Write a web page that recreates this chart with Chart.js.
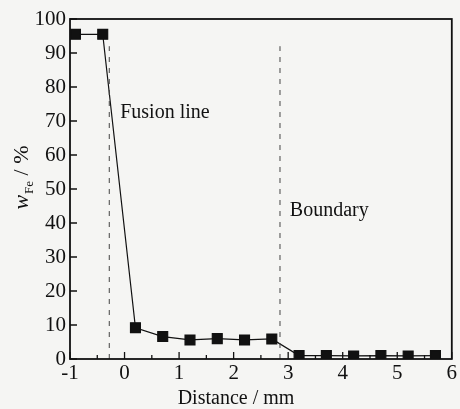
<!DOCTYPE html>
<html>
<head>
<meta charset="utf-8">
<script src="https://cdn.jsdelivr.net/npm/chart.js@4.4.1/dist/chart.umd.min.js"></script>
<style>
  html, body { margin: 0; padding: 0; background: #f5f5f3; }
  #wrap { width: 460px; height: 409px; }
</style>
</head>
<body>
<div id="wrap"><canvas id="feChart" width="460" height="409"></canvas></div>
<script>
// Fe content across the fusion line
const distance = [-0.9, -0.4, 0.2, 0.7, 1.2, 1.7, 2.2, 2.7, 3.2, 3.7, 4.2, 4.7, 5.2, 5.7];
const wFe = [95.5, 95.5, 9.2, 6.6, 5.6, 6.0, 5.6, 5.9, 1.0, 1.0, 0.9, 1.0, 0.9, 1.0];

const fusionX = [-0.28, -0.28];
const boundaryX = [2.85, 2.85];
const markerSpanY = [0, 92];

const xTicks = [-1, 0, 1, 2, 3, 4, 5, 6];
const yTicks = [0, 10, 20, 30, 40, 50, 60, 70, 80, 90, 100];

const labels = [
    { text: "Fusion line", x: -0.08, y: 72.5 },
    { text: "Boundary", x: 3.03, y: 43.5 },
];

const SERIF = "'Liberation Serif', 'Times New Roman', serif";

// inward ticks, frame, axis titles and the two notes
const decorations = {
    id: "decorations",
    afterDraw(chart) {
        const ctx = chart.ctx;
        const a = chart.chartArea;
        const xs = chart.scales.x;
        const ys = chart.scales.y;
        ctx.save();
        ctx.strokeStyle = "#111";
        ctx.lineWidth = 1.8;
        ctx.strokeRect(a.left, a.top, a.right - a.left, a.bottom - a.top);

        ctx.lineWidth = 1.3;
        ctx.beginPath();
        xTicks.forEach((v, i) => {
            const px = xs.getPixelForValue(v);
            ctx.moveTo(px, a.bottom);
            ctx.lineTo(px, a.bottom - 7);
            if (i < xTicks.length - 1) {
                const mx = xs.getPixelForValue(v + 0.5);
                ctx.moveTo(mx, a.bottom);
                ctx.lineTo(mx, a.bottom - 4);
            }
        });
        yTicks.forEach(v => {
            const py = ys.getPixelForValue(v);
            ctx.moveTo(a.left, py);
            ctx.lineTo(a.left + 7, py);
        });
        ctx.stroke();

        ctx.fillStyle = "#111";
        ctx.font = "20px " + SERIF;
        ctx.textBaseline = "middle";
        labels.forEach(l => {
            ctx.textAlign = "left";
            ctx.fillText(l.text, xs.getPixelForValue(l.x), ys.getPixelForValue(l.y));
        });

        ctx.textAlign = "center";
        ctx.fillText("Distance / mm", 236, 399);

        // y title: w_Fe / %
        ctx.translate(21, 178);
        ctx.rotate(-Math.PI / 2);
        const wFont = "italic 22px " + SERIF;
        const subFont = "13px " + SERIF;
        const restFont = "22px " + SERIF;
        ctx.font = wFont; const w1 = ctx.measureText("w").width;
        ctx.font = subFont; const w2 = ctx.measureText("Fe").width;
        ctx.font = restFont; const w3 = ctx.measureText(" / %").width;
        let x0 = -(w1 + w2 + w3) / 2;
        ctx.textAlign = "left";
        ctx.textBaseline = "alphabetic";
        ctx.font = wFont; ctx.fillText("w", x0, 7); x0 += w1 + 1;
        ctx.font = subFont; ctx.fillText("Fe", x0, 12); x0 += w2;
        ctx.font = restFont; ctx.fillText(" / %", x0, 7);
        ctx.restore();
    },
};

const bg = {
    id: "bg",
    beforeDraw(chart) {
        const ctx = chart.ctx;
        ctx.save();
        ctx.fillStyle = "#f5f5f3";
        ctx.fillRect(0, 0, chart.width, chart.height);
        ctx.restore();
    },
};

const dashed = (xv) => ({
    data: xv.map((x, i) => ({ x: x, y: markerSpanY[i] })),
    borderColor: "#444",
    borderWidth: 1,
    borderDash: [5, 6],
    pointRadius: 0,
    showLine: true,
    fill: false,
});

new Chart(document.getElementById("feChart"), {
    type: "scatter",
    data: {
        datasets: [
            dashed(fusionX),
            dashed(boundaryX),
            {
                data: distance.map((d, i) => ({ x: d, y: wFe[i] })),
                borderColor: "#111",
                borderWidth: 1.2,
                backgroundColor: "#111",
                pointStyle: "rect",
                pointRadius: 7,
                showLine: true,
                fill: false,
            },
        ],
    },
    options: {
        responsive: false,
        animation: false,
        devicePixelRatio: 1,
        layout: { padding: { left: 0, right: 7, top: 19, bottom: 0 } },
        plugins: { legend: { display: false }, tooltip: { enabled: false } },
        scales: {
            x: {
                type: "linear",
                min: -1,
                max: 6,
                afterFit: s => { s.height = 50; },
                afterBuildTicks: s => { s.ticks = xTicks.map(v => ({ value: v })); },
                grid: { display: false, drawTicks: false },
                border: { display: false },
                ticks: { color: "#111", padding: 2, font: { family: SERIF, size: 21 } },
            },
            y: {
                type: "linear",
                min: 0,
                max: 100,
                afterFit: s => { s.width = 70; },
                afterBuildTicks: s => { s.ticks = yTicks.map(v => ({ value: v })); },
                grid: { display: false, drawTicks: false },
                border: { display: false },
                ticks: { color: "#111", padding: 4, font: { family: SERIF, size: 21 } },
            },
        },
    },
    plugins: [bg, decorations],
});
</script>
</body>
</html>
